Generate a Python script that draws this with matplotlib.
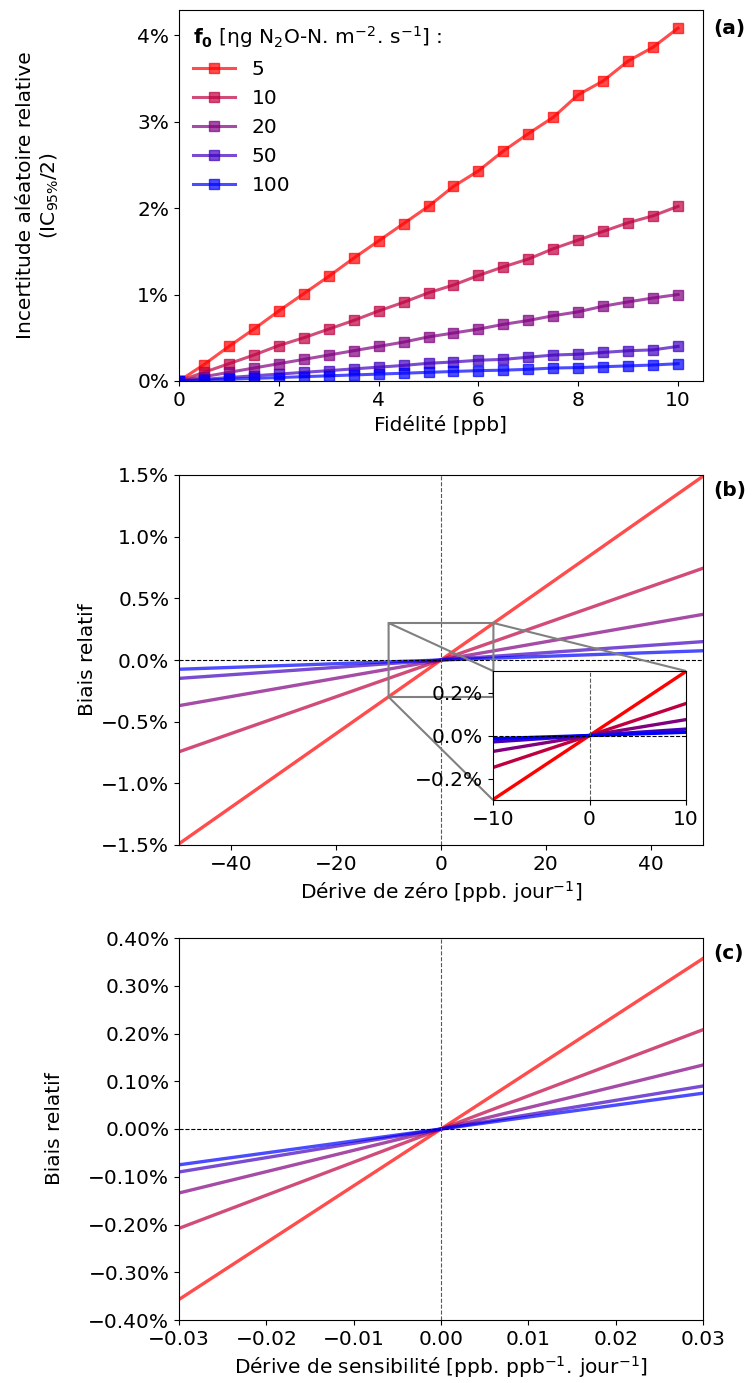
import matplotlib
matplotlib.use("Agg")
import matplotlib.pyplot as plt
from matplotlib.ticker import PercentFormatter, MultipleLocator, FuncFormatter

plt.rcParams['font.family'] = ['DejaVu Sans']
plt.rcParams['font.size'] = 14.5

# --- data ---
f0 = [5, 10, 20, 50, 100]
colors = [(1.0, 0, 0), (0.75, 0, 0.25), (0.5, 0, 0.5), (0.25, 0, 0.75), (0, 0, 1.0)]

# (a) relative random uncertainty vs precision
fidelite = [0, 0.5, 1, 1.5, 2, 2.5, 3, 3.5, 4, 4.5, 5, 5.5, 6, 6.5, 7, 7.5, 8, 8.5, 9, 9.5, 10]
incert = {
    5: [0, 0.19, 0.40, 0.60, 0.81, 1.01, 1.21, 1.42, 1.62, 1.82, 2.02, 2.25, 2.43, 2.66, 2.86, 3.05, 3.31, 3.47, 3.70, 3.86, 4.08],
    10: [0, 0.10, 0.20, 0.30, 0.41, 0.50, 0.60, 0.70, 0.81, 0.91, 1.02, 1.11, 1.22, 1.32, 1.41, 1.53, 1.63, 1.73, 1.83, 1.91, 2.02],
    20: [0, 0.05, 0.10, 0.15, 0.20, 0.25, 0.30, 0.35, 0.40, 0.45, 0.51, 0.555, 0.60, 0.655, 0.70, 0.755, 0.80, 0.865, 0.915, 0.96, 1.00],
    50: [0, 0.02, 0.04, 0.06, 0.08, 0.10, 0.12, 0.14, 0.16, 0.18, 0.205, 0.22, 0.24, 0.25, 0.275, 0.30, 0.31, 0.33, 0.35, 0.36, 0.40],
    100: [0, 0.01, 0.02, 0.03, 0.04, 0.05, 0.06, 0.07, 0.08, 0.09, 0.10, 0.11, 0.12, 0.125, 0.135, 0.15, 0.155, 0.165, 0.175, 0.185, 0.20],
}

# (b) relative bias vs zero drift
derive_zero = [-50, 50]
biais_zero = {
    5: [-1.49, 1.49],
    10: [-0.744, 0.744],
    20: [-0.37, 0.37],
    50: [-0.149, 0.149],
    100: [-0.075, 0.075],
}

# (c) relative bias vs sensitivity drift
derive_sens = [-0.03, 0.03]
biais_sens = {
    5: [-0.357, 0.357],
    10: [-0.208, 0.208],
    20: [-0.134, 0.134],
    50: [-0.090, 0.090],
    100: [-0.075, 0.075],
}

W, H = 752, 1383
fig = plt.figure(figsize=(W / 100, H / 100), dpi=100)

def box(x0, x1, ytop, ybot):
    return [x0 / W, 1 - ybot / H, (x1 - x0) / W, (ybot - ytop) / H]

# ---------------- (a) ----------------
ax1 = fig.add_axes(box(179, 703, 10, 381))
for f, c in zip(f0, colors):
    ax1.plot(fidelite, incert[f], color=c, lw=2.2, marker='s', ms=6.5, alpha=0.7, label=str(f))
ax1.set_xlim(0, 10.5)
ax1.set_ylim(0, 4.29)
ax1.yaxis.set_major_locator(MultipleLocator(1))
ax1.yaxis.set_major_formatter(PercentFormatter(decimals=0))
ax1.xaxis.set_major_locator(MultipleLocator(2))
ax1.set_xlabel("Fidélité [ppb]")
ax1.set_ylabel("Incertitude aléatoire relative\n(IC$_{95\\%}$/2)")
ax1.yaxis.set_label_coords(-0.225, 0.5)
leg = ax1.legend(loc='upper left', frameon=False,
                 title=r"$\mathbf{f_0}$ [ηg N$_2$O-N$.\,$m$^{-2}.\,$s$^{-1}$] :",
                 handlelength=2.1, labelspacing=0.5, borderaxespad=0.3)
leg._legend_box.align = "left"
ax1.text(1.02, 0.975, "(a)", transform=ax1.transAxes, fontweight='bold', va='top')

# ---------------- (b) ----------------
ax2 = fig.add_axes(box(179, 703, 475, 845))
for f, c in zip(f0, colors):
    ax2.plot(derive_zero, biais_zero[f], color=c, lw=2.4, alpha=0.7)
ax2.axhline(0, color='k', lw=0.8, ls='--')
ax2.axvline(0, color='0.35', lw=0.8, ls='--')
ax2.set_xlim(-50, 50)
ax2.set_ylim(-1.5, 1.5)
ax2.yaxis.set_major_locator(MultipleLocator(0.5))
ax2.yaxis.set_major_formatter(PercentFormatter(decimals=1))
ax2.set_xlabel(r"Dérive de zéro [ppb$.\,$jour$^{-1}$]")
ax2.set_ylabel("Biais relatif")
ax2.yaxis.set_label_coords(-0.157, 0.5)
ax2.text(1.02, 0.985, "(b)", transform=ax2.transAxes, fontweight='bold', va='top')

axins = fig.add_axes(box(493, 686, 671, 800))
for f, c in zip(f0, colors):
    axins.plot(derive_zero, biais_zero[f], color=c, lw=2.4)
axins.axhline(0, color='k', lw=0.8, ls='--')
axins.axvline(0, color='0.35', lw=0.8, ls='--')
axins.set_xlim(-10, 10)
axins.set_ylim(-0.3, 0.3)
axins.set_xticks([-10, 0, 10])
axins.set_yticks([-0.2, 0, 0.2])
axins.yaxis.set_major_formatter(PercentFormatter(decimals=1))
ax2.indicate_inset_zoom(axins, edgecolor='0.5', alpha=1, linewidth=1.5)

# ---------------- (c) ----------------
ax3 = fig.add_axes(box(179, 703, 938, 1320))
for f, c in zip(f0, colors):
    ax3.plot(derive_sens, biais_sens[f], color=c, lw=2.4, alpha=0.7)
ax3.axhline(0, color='k', lw=0.8, ls='--')
ax3.axvline(0, color='0.35', lw=0.8, ls='--')
ax3.set_xlim(-0.03, 0.03)
ax3.set_ylim(-0.4, 0.4)
ax3.xaxis.set_major_locator(MultipleLocator(0.01))
ax3.xaxis.set_major_formatter(FuncFormatter(lambda v, p: f"{v:.2f}".replace('-', '\u2212') if abs(v) > 1e-9 else "0.00"))
ax3.yaxis.set_major_locator(MultipleLocator(0.1))
ax3.yaxis.set_major_formatter(PercentFormatter(decimals=2))
ax3.set_xlabel(r"Dérive de sensibilité [ppb$.\,$ppb$^{-1}.\,$jour$^{-1}$]")
ax3.set_ylabel("Biais relatif")
ax3.yaxis.set_label_coords(-0.22, 0.5)
ax3.text(1.02, 0.985, "(c)", transform=ax3.transAxes, fontweight='bold', va='top')

fig.savefig("out.png", dpi=100)
